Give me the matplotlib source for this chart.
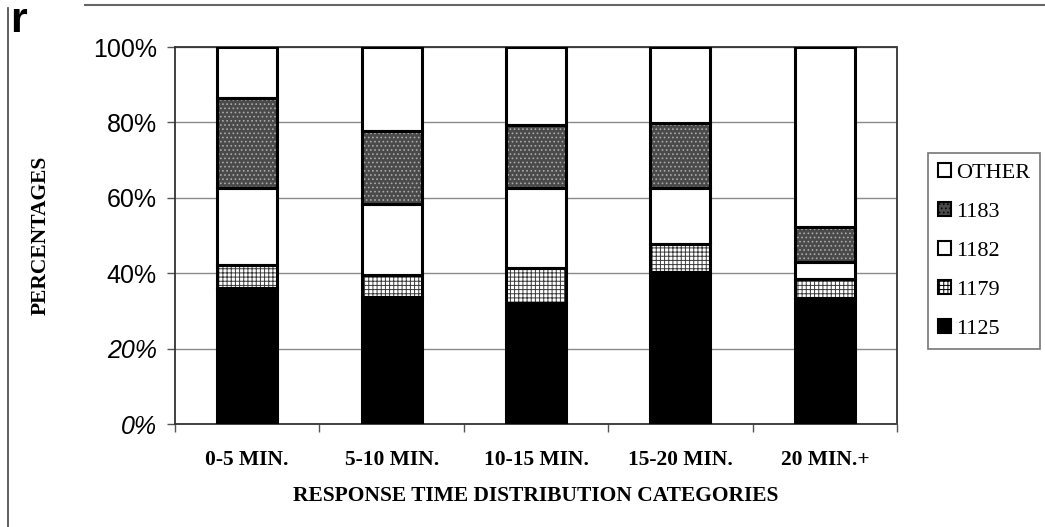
import numpy as np
import matplotlib
matplotlib.use("Agg")
import matplotlib.pyplot as plt
from matplotlib.patches import Patch
from matplotlib.lines import Line2D

categories = ["0-5 MIN.", "5-10 MIN.", "10-15 MIN.", "15-20 MIN.", "20 MIN.+"]
s1125 = [36.0, 33.6, 32.2, 40.2, 33.4]
s1179 = [6.2, 5.9, 9.1, 7.5, 5.0]
s1182 = [20.4, 18.8, 21.4, 15.0, 4.6]
s1183 = [23.8, 19.5, 16.6, 17.1, 9.2]
other = [13.6, 22.2, 20.7, 20.2, 47.8]
ytick_labels = ["0%", "20%", "40%", "60%", "80%", "100%"]

series = [("1125", s1125), ("1179", s1179), ("1182", s1182), ("1183", s1183), ("OTHER", other)]
# face colour, hatch pattern, hatch colour
styles = {
    "1125": ("black", None, "black"),
    "1179": ("white", "++++", "#3a3a3a"),
    "1182": ("white", None, "white"),
    "1183": ("#4a4a4a", "....", "#aaaaaa"),
    "OTHER": ("white", None, "white"),
}

serif = ["Liberation Serif", "DejaVu Serif"]
sans = ["Liberation Sans", "DejaVu Sans"]

plt.rcParams["hatch.linewidth"] = 0.7

fig = plt.figure(figsize=(10.45, 5.27), dpi=100)
ax = fig.add_axes([0.1675, 0.1954, 0.6909, 0.7154])

x = np.arange(len(categories))
width = 0.415
bottom = np.zeros(len(categories))
for name, vals in series:
    fc, hatch, hc = styles[name]
    ax.bar(x, vals, width, bottom=bottom, color=fc, edgecolor=hc, hatch=hatch,
           linewidth=0, zorder=3)
    ax.bar(x, vals, width, bottom=bottom, fill=False, edgecolor="black",
           linewidth=2.2, zorder=4)
    bottom += np.array(vals)

ax.set_xlim(-0.5, len(categories) - 0.5)
ax.set_ylim(0, 100)

ax.set_yticks(range(0, 101, 20))
ax.set_yticklabels(ytick_labels, fontfamily=sans, fontsize=18)
for lab in ax.get_yticklabels():
    if lab.get_text() in ("0%", "20%"):
        lab.set_fontstyle("italic")
ax.tick_params(axis="y", length=6, width=1, color="#555555", pad=7)

ax.set_xticks(x)
ax.set_xticklabels(categories, fontfamily=serif, fontweight="bold", fontsize=15.5)
ax.set_xticks(np.arange(-0.5, len(categories)), minor=True)
ax.tick_params(axis="x", which="major", length=0, pad=19)
ax.tick_params(axis="x", which="minor", length=6, width=1, color="#555555")

ax.yaxis.grid(True, color="#8a8a8a", linewidth=1, zorder=0)
for side in ["left", "bottom", "top", "right"]:
    ax.spines[side].set_color("#333333")
    ax.spines[side].set_linewidth(1.3)
    ax.spines[side].set_linestyle((0, (1, 1)))

ax.set_ylabel("PERCENTAGES", fontfamily=serif, fontweight="bold", fontsize=15.5)
ax.yaxis.set_label_coords(-0.172, 0.5)
ax.set_xlabel("RESPONSE TIME DISTRIBUTION CATEGORIES", fontfamily=serif,
              fontweight="bold", fontsize=15.5)
ax.xaxis.set_label_coords(0.5, -0.165)

handles = []
for name, vals in reversed(series):
    fc, hatch, hc = styles[name]
    handles.append(Patch(facecolor=fc, edgecolor="black", hatch=hatch, linewidth=1.5,
                         label=name))
leg = fig.legend(handles=handles, loc="upper left",
                 bbox_to_anchor=(928 / 1045, 1 - 153 / 527), borderaxespad=0,
                 prop={"family": serif, "size": 16}, frameon=True, fancybox=False,
                 handlelength=0.6, handleheight=0.6, handletextpad=0.2,
                 labelspacing=0.86, borderpad=0.45)
leg.get_frame().set_edgecolor("#555555")
leg.get_frame().set_linewidth(1.2)

# page border and stray letter along the top-left edge
fig.add_artist(Line2D([8 / 1045, 8 / 1045], [0, 1 - 8 / 527], color="#444444",
                      linewidth=1.2, transform=fig.transFigure))
fig.add_artist(Line2D([85 / 1045, 1], [1 - 5 / 527, 1 - 5 / 527], color="#666666",
                      linewidth=1.5, transform=fig.transFigure))
fig.text(10 / 1045, 1 - 32 / 527, "r", fontfamily=sans, fontweight="bold",
         fontsize=31, va="baseline", ha="left")

fig.savefig("out.png", dpi=100)
